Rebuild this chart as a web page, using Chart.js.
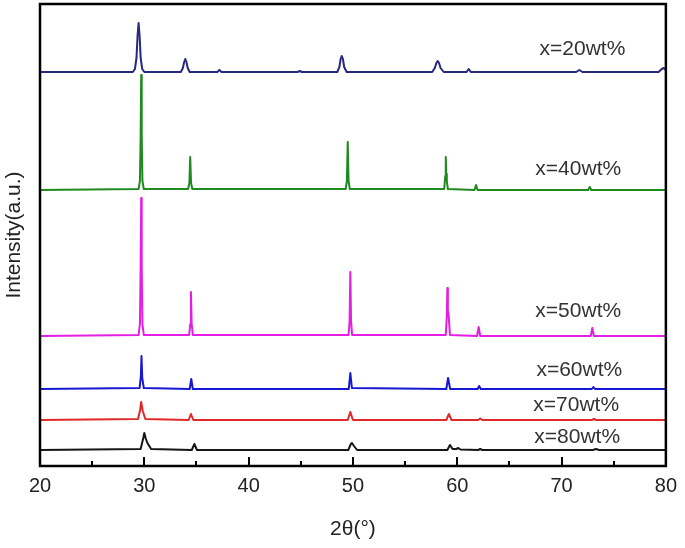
<!DOCTYPE html>
<html>
<head>
<meta charset="utf-8">
<script src="https://cdn.jsdelivr.net/npm/chart.js@4.4.1/dist/chart.umd.min.js"></script>
<style>
  html, body { margin: 0; padding: 0; background: #fff; }
</style>
</head>
<body>
<canvas id="myChart" width="685" height="548"></canvas>
<script>
// 2theta (deg) and intensity (a.u., curves already offset) for each sample
const tt20 = [20, 28.9, 29.1, 29.25, 29.35, 29.45, 29.55, 29.65, 29.8, 30.0, 33.5, 33.7, 33.82, 33.93, 34.04, 34.16, 34.35, 37.0, 37.2, 37.4, 44.7, 44.9, 45.1, 48.5, 48.7, 48.82, 48.93, 49.04, 49.16, 49.4, 57.6, 57.85, 58.0, 58.12, 58.25, 58.4, 58.7, 60.9, 61.1, 61.3, 71.4, 71.7, 72.0, 79.3, 79.6, 79.8, 80];
const int20 = [394, 394, 397, 408, 430, 443, 430, 408, 397, 394, 394, 398, 404, 407, 404, 398, 394, 394, 396, 394, 394, 395, 394, 394, 399, 407, 410, 407, 399, 394, 394, 398, 403, 405, 403, 398, 394, 394, 397, 394, 394, 396, 394, 394, 397, 398, 396];

const tt40 = [20, 29.45, 29.58, 29.65, 29.7, 29.75, 29.82, 29.95, 34.2, 34.32, 34.4, 34.48, 34.6, 49.3, 49.42, 49.5, 49.58, 49.7, 58.75, 58.85, 58.9, 58.95, 59.0, 59.1, 61.65, 61.8, 61.95, 72.55, 72.7, 72.85, 80];
const int40 = [276, 277, 285, 330, 391, 330, 285, 277, 277, 283, 309, 283, 277, 277, 285, 324, 285, 277, 277, 290, 309, 292, 285, 277, 276, 281, 276, 276, 279, 276, 276];

const tt50 = [20, 29.45, 29.58, 29.65, 29.7, 29.75, 29.82, 29.95, 34.3, 34.4, 34.47, 34.54, 34.65, 49.58, 49.68, 49.75, 49.82, 49.92, 58.9, 59.0, 59.05, 59.1, 59.17, 59.3, 61.9, 62.05, 62.2, 72.8, 72.95, 73.1, 80];
const int50 = [130, 131, 142, 200, 268, 200, 142, 131, 131, 142, 174, 142, 131, 131, 145, 194, 145, 131, 131, 150, 178, 155, 152, 131, 130, 139, 130, 130, 138, 130, 130];

const tt60 = [20, 29.55, 29.67, 29.73, 29.8, 29.95, 34.35, 34.5, 34.65, 49.6, 49.75, 49.9, 58.95, 59.12, 59.32, 61.95, 62.1, 62.25, 72.9, 73.05, 73.2, 80];
const int60 = [77, 78, 90, 110, 88, 78, 77, 87, 77, 77, 93, 78, 77, 88, 77, 77, 80, 77, 77, 79, 77, 77];

const tt70 = [20, 29.4, 29.6, 29.7, 29.85, 30.1, 34.25, 34.47, 34.7, 49.5, 49.75, 50.0, 58.95, 59.2, 59.45, 62.0, 62.2, 62.4, 72.9, 73.1, 73.3, 80];
const int70 = [46, 47, 56, 64, 55, 47, 46, 52, 46, 46, 54, 46, 46, 52, 46, 46, 47.5, 46, 46, 47, 46, 46];

const tt80 = [20, 29.65, 29.9, 30.0, 30.15, 30.3, 30.65, 34.55, 34.8, 35.05, 49.55, 49.8, 49.9, 50.1, 50.4, 59.05, 59.3, 59.55, 59.9, 60.1, 60.3, 62.0, 62.2, 62.4, 73.0, 73.3, 73.6, 80];
const int80 = [16, 17, 28, 33, 27, 23, 17, 16, 22, 16, 16, 22, 23, 20, 16, 16, 21, 17, 17, 18, 16.5, 16, 17, 16, 16, 17, 16, 16];

const muestras = ["x=20wt%", "x=40wt%", "x=50wt%", "x=60wt%", "x=70wt%", "x=80wt%"];
const colores = ["#28287f", "#1f8a1f", "#e41ee4", "#1818d2", "#e02a2a", "#161616"];
const ticksX = [20, 25, 30, 35, 40, 45, 50, 55, 60, 65, 70, 75, 80];

const series = [[tt20, int20], [tt40, int40], [tt50, int50], [tt60, int60], [tt70, int70], [tt80, int80]];

// where each sample name sits (in data units)
const posEtiquetas = [[72.0, 417], [71.6, 297], [71.6, 155], [71.7, 96], [71.4, 61], [71.5, 29]];

const fuente = '"Liberation Sans", Arial, sans-serif';

const marco = {
    id: 'marco',
    afterDraw(chart) {
        const { ctx, chartArea: a, scales: { x, y } } = chart;
        ctx.save();
        ctx.strokeStyle = '#000';
        ctx.lineWidth = 2.5;
        ctx.strokeRect(a.left, a.top, a.right - a.left, a.bottom - a.top);
        // ticks pointing inward
        ctx.lineWidth = 2;
        ticksX.forEach(v => {
            const px = Math.round(x.getPixelForValue(v));
            const largo = v % 10 === 0 ? 9 : 5;
            ctx.beginPath();
            ctx.moveTo(px, a.bottom);
            ctx.lineTo(px, a.bottom - largo);
            ctx.stroke();
        });
        ctx.font = '21px ' + fuente;
        ctx.fillStyle = '#333';
        ctx.textAlign = 'center';
        ctx.textBaseline = 'middle';
        muestras.forEach((t, i) => {
            ctx.fillText(t, x.getPixelForValue(posEtiquetas[i][0]), y.getPixelForValue(posEtiquetas[i][1]));
        });
        ctx.restore();
    }
};

const $grafica = document.querySelector("#myChart");

new Chart($grafica, {
    type: 'line',
    data: {
        datasets: series.map((s, i) => ({
            label: muestras[i],
            data: s[0].map((v, j) => ({ x: v, y: s[1][j] })),
            borderColor: colores[i],
            borderWidth: 2,
            borderJoinStyle: 'round',
            pointRadius: 0,
            tension: 0,
            fill: false
        }))
    },
    options: {
        responsive: false,
        animation: false,
        devicePixelRatio: 1,
        layout: { padding: { top: 4, right: 16, left: 0, bottom: 0 } },
        plugins: { legend: { display: false }, tooltip: { enabled: false } },
        scales: {
            x: {
                type: 'linear',
                min: 20,
                max: 80,
                grid: { display: false, drawTicks: false },
                border: { display: false },
                ticks: {
                    stepSize: 10,
                    padding: 8,
                    color: '#222',
                    font: { family: fuente, size: 20 }
                },
                title: {
                    display: true,
                    text: '2θ(°)',
                    color: '#222',
                    font: { family: fuente, size: 21 },
                    padding: { top: 0, bottom: 6 }
                },
                afterFit(scale) { scale.height = 82; }
            },
            y: {
                min: 0,
                max: 462,
                grid: { display: false, drawTicks: false },
                border: { display: false },
                ticks: { display: false },
                title: {
                    display: true,
                    text: 'Intensity(a.u.)',
                    color: '#222',
                    font: { family: fuente, size: 21 },
                    padding: { top: 2, bottom: 0 }
                },
                afterFit(scale) { scale.width = 40; }
            }
        }
    },
    plugins: [marco]
});
</script>
</body>
</html>
